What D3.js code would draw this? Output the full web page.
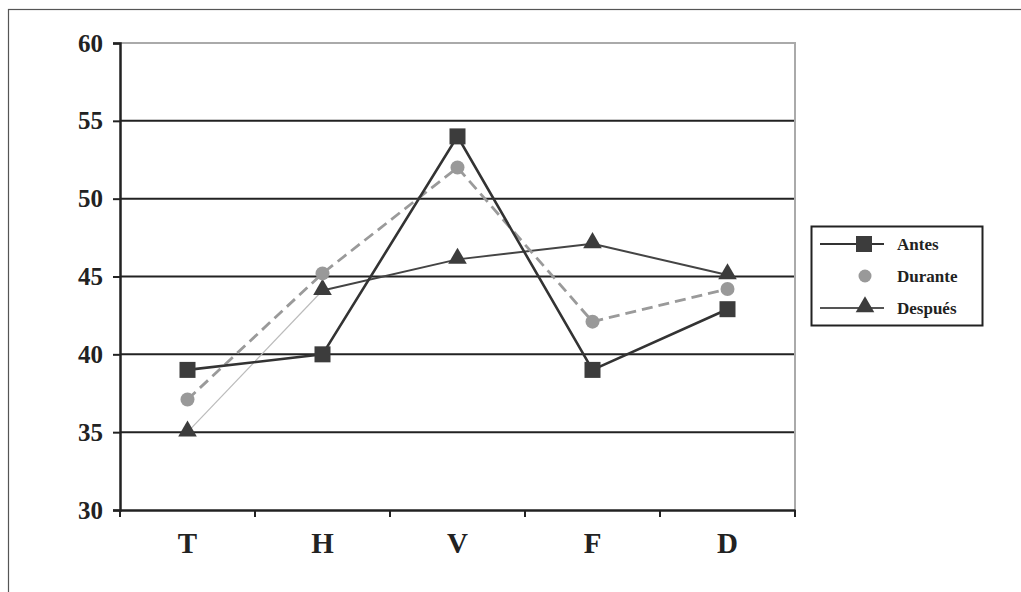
<!DOCTYPE html>
<html>
<head>
<meta charset="utf-8">
<script src="https://cdn.jsdelivr.net/npm/d3@7"></script>
<style>
body { margin: 0; background: #fff; }
text { font-family: "Liberation Serif", "DejaVu Serif", serif; font-weight: bold; fill: #222; }
</style>
</head>
<body>
<div id="chart"></div>
<script>
// data
var categories = ["T", "H", "V", "F", "D"];
var antes = [39, 40, 54, 39, 42.9];
var durante = [37.1, 45.2, 52, 42.1, 44.2];
var despues = [35, 44.1, 46.1, 47.1, 45.1];
var yTicks = [30, 35, 40, 45, 50, 55, 60];
var seriesNames = ["Antes", "Durante", "Después"];

var svgWidth = 1021;
var svgHeight = 592;
var margin = { top: 43, right: 226, bottom: 82, left: 120 };
var width = svgWidth - margin.left - margin.right;
var height = svgHeight - margin.top - margin.bottom;

var svg = d3.select("#chart")
    .append("svg")
    .attr("width", svgWidth)
    .attr("height", svgHeight);

// outer frame
svg.append("rect")
    .attr("x", 8.5).attr("y", 9.5)
    .attr("width", 1030).attr("height", 600)
    .attr("fill", "none")
    .attr("stroke", "#555")
    .attr("stroke-width", 1.2);

var chartGroup = svg.append("g")
    .attr("transform", `translate(${margin.left}, ${margin.top})`);

var x = d3.scaleBand().domain(categories).range([0, width]);
var y = d3.scaleLinear().domain([30, 60]).range([height, 0]);

//grid lines
chartGroup.selectAll(".grid")
    .data(yTicks.filter(d => d > 30 && d < 60))
    .enter()
    .append("line")
    .attr("x1", 0).attr("x2", width)
    .attr("y1", d => y(d)).attr("y2", d => y(d))
    .attr("stroke", "#222")
    .attr("stroke-width", 2);

// top and right border of plot area
chartGroup.append("path")
    .attr("d", `M0,${y(60)}H${width}V${height}`)
    .attr("fill", "none")
    .attr("stroke", "#aaa")
    .attr("stroke-width", 2);

//axes
var leftAxis = d3.axisLeft(y).tickValues(yTicks).tickSize(7).tickPadding(10);
var yAxis = chartGroup.append("g").call(leftAxis);
yAxis.select(".domain").attr("stroke", "#222").attr("stroke-width", 2.5);
yAxis.selectAll(".tick line").attr("stroke", "#222").attr("stroke-width", 2);
yAxis.selectAll(".tick text")
    .attr("font-size", "25px")
    .attr("font-family", "Liberation Serif")
    .attr("fill", "#222");

var bottomAxis = d3.axisBottom(x).tickSize(0).tickPadding(17);
var xAxis = chartGroup.append("g")
    .attr("transform", `translate(0, ${height})`)
    .call(bottomAxis);
xAxis.select(".domain").attr("stroke", "#222").attr("stroke-width", 2.5);
xAxis.selectAll(".tick text")
    .attr("font-size", "29px")
    .attr("font-family", "Liberation Serif")
    .attr("fill", "#222")
    .attr("dy", "0.9em");
// tick marks at category boundaries
chartGroup.selectAll(".xtick")
    .data(categories.concat(["end"]))
    .enter()
    .append("line")
    .attr("x1", (d, i) => i * x.step())
    .attr("x2", (d, i) => i * x.step())
    .attr("y1", height).attr("y2", height + 7)
    .attr("stroke", "#222")
    .attr("stroke-width", 2);

var cx = (d, i) => x(categories[i]) + x.bandwidth() / 2;
var line = d3.line().x(cx).y(d => y(d));

// Despues line: first segment faint
var despuesPairs = d3.pairs(despues.map((v, i) => [i, v]));
chartGroup.selectAll(".despSeg")
    .data(despuesPairs)
    .enter()
    .append("line")
    .attr("x1", d => cx(null, d[0][0]))
    .attr("y1", d => y(d[0][1]))
    .attr("x2", d => cx(null, d[1][0]))
    .attr("y2", d => y(d[1][1]))
    .attr("stroke", (d, i) => i == 0 ? "#bbb" : "#444")
    .attr("stroke-width", (d, i) => i == 0 ? 1.2 : 2);

chartGroup.append("path")
    .datum(durante)
    .attr("d", line)
    .attr("fill", "none")
    .attr("stroke", "#9a9a9a")
    .attr("stroke-width", 2.8)
    .attr("stroke-dasharray", "11,6");

chartGroup.append("path")
    .datum(antes)
    .attr("d", line)
    .attr("fill", "none")
    .attr("stroke", "#333")
    .attr("stroke-width", 2.6);

var tri = d3.symbol().type(d3.symbolTriangle).size(150);

//markers
chartGroup.selectAll(".desp")
    .data(despues)
    .enter()
    .append("path")
    .attr("d", tri)
    .attr("transform", (d, i) => `translate(${cx(d, i)}, ${y(d) - 1})`)
    .attr("fill", "#3c3c3c");

chartGroup.selectAll(".dur")
    .data(durante)
    .enter()
    .append("circle")
    .attr("cx", cx)
    .attr("cy", d => y(d))
    .attr("r", 7)
    .attr("fill", "#999");

chartGroup.selectAll(".ant")
    .data(antes)
    .enter()
    .append("rect")
    .attr("x", (d, i) => cx(d, i) - 8)
    .attr("y", d => y(d) - 8)
    .attr("width", 16).attr("height", 16)
    .attr("fill", "#3c3c3c");

//legend
var legend = svg.append("g").attr("transform", "translate(811, 226)");
legend.append("rect")
    .attr("x", 0.5).attr("y", 0.5)
    .attr("width", 171).attr("height", 99)
    .attr("fill", "#fff")
    .attr("stroke", "#222")
    .attr("stroke-width", 2);

var rows = legend.selectAll(".row")
    .data(seriesNames)
    .enter()
    .append("g")
    .attr("transform", (d, i) => `translate(0, ${18 + i * 32})`);

rows.filter((d, i) => i != 1).append("line")
    .attr("x1", 9).attr("x2", 73)
    .attr("stroke", (d, i) => i == 0 ? "#333" : "#555")
    .attr("stroke-width", 2);
rows.filter((d, i) => i == 0).append("rect")
    .attr("x", 45).attr("y", -8).attr("width", 16).attr("height", 16)
    .attr("fill", "#3c3c3c");
rows.filter((d, i) => i == 1).append("circle")
    .attr("cx", 54).attr("cy", 0).attr("r", 6.5)
    .attr("fill", "#999");
rows.filter((d, i) => i == 2).append("path")
    .attr("d", tri)
    .attr("transform", "translate(54, -1)")
    .attr("fill", "#3c3c3c");
rows.append("text")
    .attr("x", 86)
    .attr("y", 0)
    .attr("dy", "0.35em")
    .attr("font-size", "17px")
    .text(d => d);
</script>
</body>
</html>
